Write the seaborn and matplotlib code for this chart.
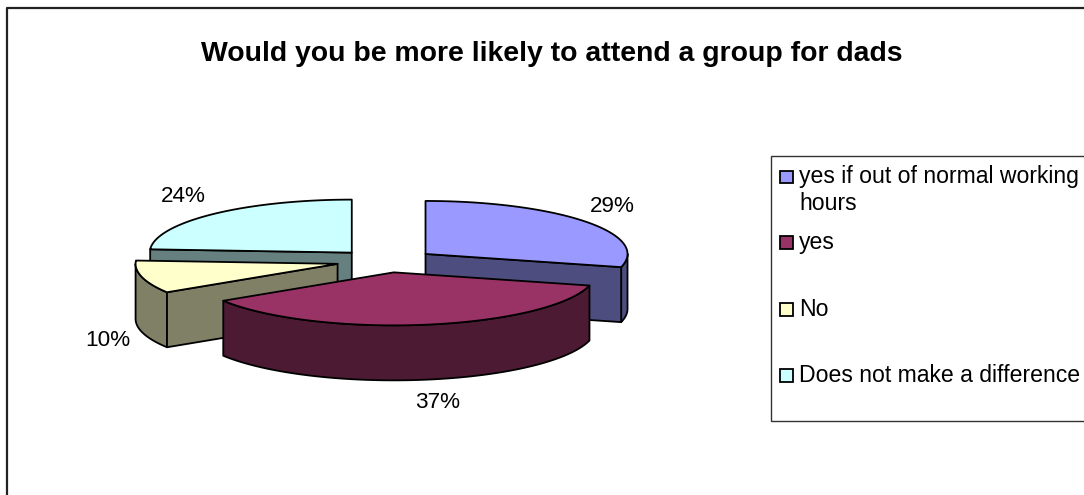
import numpy as np
import matplotlib
matplotlib.use("Agg")
import matplotlib.pyplot as plt
from matplotlib.patches import Rectangle
import seaborn as sns

TITLE = "Would you be more likely to attend a group for dads"
categories = ["yes if out of normal working\nhours", "yes", "No", "Does not make a difference"]
shares = [29, 37, 10, 24]
top_colors = ["#9999FF", "#993366", "#FFFFCC", "#CCFFFF"]
side_colors = ["#4D4D80", "#4D1A33", "#808066", "#668080"]

sns.set_theme(style="white")
plt.rcParams["font.family"] = ["Liberation Sans", "DejaVu Sans"]

# Projected pie geometry, in pixels
CX, CY = 386.0, 261.0
RX, RY = 202.0, 53.0
DEPTH = 55.0
EXPLODE_X, EXPLODE_Y = 50.0, 11.5
EDGE = 1.3

fig, ax = plt.subplots(figsize=(10.84, 4.95), dpi=100)
ax.set_position([0, 0, 1, 1])
ax.set_xlim(0, 1084)
ax.set_ylim(495, 0)
ax.axis("off")

# Outer chart frame, open towards the right and bottom
ax.plot([7, 7, 1084], [495, 7.5, 7.5], color="#222222", lw=1.6, solid_capstyle="butt", clip_on=False)


def rim(vx, vy, angles):
    """Rim points of a slice with its vertex at (vx, vy); angles run clockwise from north."""
    return vx + RX * np.sin(angles), vy - RY * np.cos(angles)


def draw_slice(start, end, top, side):
    mid = (start + end) / 2
    vx = CX + EXPLODE_X * np.sin(mid)
    vy = CY - EXPLODE_Y * np.cos(mid)
    style = dict(edgecolor="black", linewidth=EDGE, joinstyle="round")

    # Outer wall: only the part of the rim that faces the viewer
    lo, hi = max(start, np.pi / 2), min(end, 3 * np.pi / 2)
    if lo < hi:
        t = np.linspace(lo, hi, 80)
        x, y = rim(vx, vy, t)
        ax.fill(np.r_[x, x[::-1]], np.r_[y, y[::-1] + DEPTH], facecolor=side, **style)

    # Cut faces turned towards the viewer
    for angle, visible in ((start, np.sin(start) < -1e-6), (end, np.sin(end) > 1e-6)):
        if visible:
            x, y = rim(vx, vy, np.array([angle]))
            ax.fill([vx, x[0], x[0], vx], [vy, y[0], y[0] + DEPTH, vy + DEPTH], facecolor=side, **style)

    # Top surface
    t = np.linspace(start, end, 160)
    x, y = rim(vx, vy, t)
    ax.fill(np.r_[vx, x], np.r_[vy, y], facecolor=top, **style)


edges = 2 * np.pi * np.cumsum([0] + shares) / sum(shares)
# Painter's order: back slices first, the front slice last
for i in (3, 0, 2, 1):
    draw_slice(edges[i], edges[i + 1], top_colors[i], side_colors[i])

ax.text(551.5, 54, TITLE, ha="center", va="center", fontsize=20.4, fontweight="bold", color="black")

label_xy = [(612, 207), (438, 403), (108, 341), (183, 196)]
for share, (lx, ly) in zip(shares, label_xy):
    ax.text(lx, ly, f"{share}%", ha="center", va="center", fontsize=16.2, color="black")

# Legend box, cut off by the right edge of the chart
ax.add_patch(Rectangle((771, 156), 330, 265, facecolor="white", edgecolor="#333333", linewidth=1.0))
square_y = [170.5, 236, 303, 369]
text_y = [177, 242, 309, 375]
for name, color, sy, ty in zip(categories, top_colors, square_y, text_y):
    ax.add_patch(Rectangle((779.5, sy), 13, 12.5, facecolor=color, edgecolor="black", linewidth=1.3))
    first, *rest = name.split("\n")
    ax.text(799, ty, first, ha="left", va="center", fontsize=16.6, color="black", clip_on=True)
    for line in rest:
        ax.text(799, ty + 27, line, ha="left", va="center", fontsize=16.6, color="black")

fig.savefig("out.png", dpi=100, facecolor="white")
